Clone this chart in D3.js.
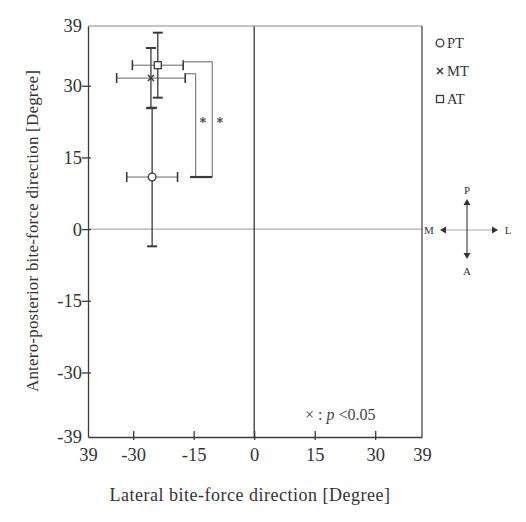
<!DOCTYPE html>
<html><head><meta charset="utf-8">
<script src="https://cdn.jsdelivr.net/npm/d3@7"></script>
<style>body{margin:0;background:#fff}svg{display:block}</style>
</head><body><div id="chart"></div>
<script>
// ---- data ----
const groups = ["PT", "MT", "AT"];
const meanX  = [-25.3, -25.6, -23.9];
const meanY  = [10.9, 31.6, 34.3];
const sdX    = [6.3, 8.5, 6.3];
const sdY    = [14.5, 6.3, 6.8];
const xDomain = [-41.2, 41.6];
const yDomain = [-43.5, 42.5];
const xTickValues = [-41.2, -30, -15, 0, 15, 30, 41.6];
const xTickLabels = ["39", "-30", "-15", "0", "15", "30", "39"];
const yTickValues = [-43.5, -30, -15, 0, 15, 30, 42.5];
const yTickLabels = ["-39", "-30", "-15", "0", "15", "30", "39"];
// significance brackets
const bracketTopY = [35.0, 32.5];
const bracketStartX = [-17.6, -16.9];
const bracketVertX = [-10.4, -14.5];
const bracketBottomY = 10.9;
const bracketBottomX = [-15.9, -10.4];
const starX = [-12.7, -8.5];
const starY = 22.8;
const xTitle = "Lateral bite-force direction [Degree]";
const yTitle = "Antero-posterior bite-force direction [Degree]";
const note = "p";

const W = 526, H = 522;
const svg = d3.select("#chart").append("svg").attr("width", W).attr("height", H);
const x = d3.scaleLinear().domain(xDomain).range([88, 422]);
const y = d3.scaleLinear().domain(yDomain).range([437, 26]);
const ink = "#3a3a3a";
const serif = "'Liberation Serif','DejaVu Serif',serif";

// zero lines
svg.append("line").attr("x1", x(xDomain[0])).attr("x2", x(xDomain[1])).attr("y1", y(0)).attr("y2", y(0))
  .attr("stroke", "#9a9a9a").attr("stroke-width", 1);
svg.append("line").attr("x1", x(0)).attr("x2", x(0)).attr("y1", y(yDomain[0])).attr("y2", y(yDomain[1]))
  .attr("stroke", ink).attr("stroke-width", 1.3);
// frame
svg.append("line").attr("x1", x(xDomain[0])).attr("x2", x(xDomain[1])).attr("y1", y(yDomain[1])).attr("y2", y(yDomain[1]))
  .attr("stroke", "#8a8a8a").attr("stroke-width", 1);
svg.append("line").attr("x1", x(xDomain[1])).attr("x2", x(xDomain[1])).attr("y1", y(yDomain[0])).attr("y2", y(yDomain[1]))
  .attr("stroke", ink).attr("stroke-width", 1.2);

// axes
const xAxis = d3.axisBottom(x).tickValues(xTickValues).tickFormat((d, i) => xTickLabels[i]).tickSizeOuter(0).tickSize(0).tickPadding(11);
const gx = svg.append("g").attr("transform", `translate(0,${y(yDomain[0])})`).call(xAxis);
gx.select(".domain").attr("stroke", ink).attr("stroke-width", 1.3);
gx.selectAll(".tick text").attr("font-family", serif).attr("font-size", 18.5).attr("fill", "#333");
gx.selectAll(".tick").filter((d, i) => i > 0 && i < xTickValues.length - 1)
  .append("line").attr("y1", -6).attr("y2", 3).attr("stroke", ink).attr("stroke-width", 1.3);

const yAxis = d3.axisLeft(y).tickValues(yTickValues).tickFormat((d, i) => yTickLabels[i]).tickSizeOuter(0).tickSize(0).tickPadding(6);
const gy = svg.append("g").attr("transform", `translate(${x(xDomain[0])},0)`).call(yAxis);
gy.select(".domain").attr("stroke", ink).attr("stroke-width", 1.3);
gy.selectAll(".tick text").attr("font-family", serif).attr("font-size", 18.5).attr("fill", "#333");
gy.selectAll(".tick").filter((d, i) => i > 0 && i < yTickValues.length - 1)
  .append("line").attr("x1", -6).attr("x2", 3).attr("stroke", ink).attr("stroke-width", 1.3);

// titles
svg.append("text").attr("x", 250).attr("y", 501).attr("text-anchor", "middle")
  .attr("font-family", serif).attr("font-size", 18).attr("letter-spacing", 0.5).attr("fill", "#333").text(xTitle);
svg.append("text").attr("transform", "translate(38,231) rotate(-90)").attr("text-anchor", "middle")
  .attr("font-family", serif).attr("font-size", 17).attr("letter-spacing", 0.2).attr("fill", "#333").text(yTitle);

// error bars
const eb = svg.append("g").attr("stroke", ink).attr("fill", "none");
groups.forEach((g, i) => {
  const cx = x(meanX[i]), cy = y(meanY[i]);
  const x0 = x(meanX[i] - sdX[i]), x1 = x(meanX[i] + sdX[i]);
  const y0 = y(meanY[i] + sdY[i]), y1 = y(meanY[i] - sdY[i]);
  eb.append("line").attr("x1", x0).attr("x2", x1).attr("y1", cy).attr("y2", cy).attr("stroke-width", 1).attr("stroke", "#666");
  eb.append("line").attr("x1", cx).attr("x2", cx).attr("y1", y0).attr("y2", y1).attr("stroke-width", 1.3);
  [x0, x1].forEach(v => eb.append("line").attr("x1", v).attr("x2", v).attr("y1", cy - 5).attr("y2", cy + 5).attr("stroke-width", 1.6));
  [y0, y1].forEach(v => eb.append("line").attr("x1", cx - 5).attr("x2", cx + 5).attr("y1", v).attr("y2", v).attr("stroke-width", 2));
});

// markers
function drawMarker(sel, g, cx, cy) {
  if (g === "PT") {
    sel.append("circle").attr("cx", cx).attr("cy", cy).attr("r", 3.8).attr("fill", "#fff").attr("stroke", ink).attr("stroke-width", 1.3);
  } else if (g === "MT") {
    sel.append("path").attr("d", `M${cx-3},${cy-3}L${cx+3},${cy+3}M${cx-3},${cy+3}L${cx+3},${cy-3}`)
      .attr("stroke", ink).attr("stroke-width", 1.5).attr("fill", "none");
  } else {
    sel.append("rect").attr("x", cx - 3.5).attr("y", cy - 3.5).attr("width", 7).attr("height", 7)
      .attr("fill", "#fff").attr("stroke", ink).attr("stroke-width", 1.3);
  }
}
const mk = svg.append("g");
groups.forEach((g, i) => drawMarker(mk, g, x(meanX[i]), y(meanY[i])));

// significance brackets
const br = svg.append("g").attr("stroke", ink).attr("fill", "none");
bracketTopY.forEach((ty, i) => {
  br.append("path").attr("d", `M${x(bracketStartX[i])},${y(ty)}H${x(bracketVertX[i])}V${y(bracketBottomY)}`)
    .attr("stroke-width", 1).attr("stroke", "#666");
  const sx = x(starX[i]), sy = y(starY);
  const r = 3.2;
  br.append("path").attr("d",
    `M${sx},${sy-r}V${sy+r}M${sx-r*0.87},${sy-r*0.5}L${sx+r*0.87},${sy+r*0.5}M${sx-r*0.87},${sy+r*0.5}L${sx+r*0.87},${sy-r*0.5}`)
    .attr("stroke", "#555").attr("stroke-width", 1.2);
});
br.append("line").attr("x1", x(bracketBottomX[0])).attr("x2", x(bracketBottomX[1]))
  .attr("y1", y(bracketBottomY)).attr("y2", y(bracketBottomY)).attr("stroke-width", 2.2);

// legend
const lg = svg.append("g");
groups.forEach((g, i) => {
  const ly = 43 + i * 28;
  drawMarker(lg, g, 440, ly);
  lg.append("text").attr("x", 447).attr("y", ly + 5).attr("font-family", serif).attr("font-size", 14.5)
    .attr("fill", "#333").text(g);
});

// note
const nt = svg.append("text").attr("x", 305).attr("y", 420).attr("font-family", serif).attr("font-size", 16).attr("fill", "#444");
nt.append("tspan").text("× : ");
nt.append("tspan").attr("font-style", "italic").text(note);
nt.append("tspan").text(" <0.05");

// direction compass
const cp = svg.append("g").attr("fill", "#333");
cp.append("line").attr("x1", 443).attr("x2", 495).attr("y1", 230).attr("y2", 230).attr("stroke", "#aaa");
cp.append("line").attr("x1", 467).attr("x2", 467).attr("y1", 202).attr("y2", 256).attr("stroke", "#555").attr("stroke-width", 1.3);
cp.append("path").attr("d", "M467,199L463.5,205H470.5Z");
cp.append("path").attr("d", "M467,259L463.5,253H470.5Z");
cp.append("path").attr("d", "M440,230L446,226.5V233.5Z");
cp.append("path").attr("d", "M498,230L492,226.5V233.5Z");
[["P", 467, 194], ["A", 467, 275], ["M", 429, 234], ["L", 508, 234]].forEach(([t, tx, ty]) =>
  cp.append("text").attr("x", tx).attr("y", ty).attr("text-anchor", "middle").attr("font-family", serif)
    .attr("font-size", 11).text(t));
</script></body></html>
